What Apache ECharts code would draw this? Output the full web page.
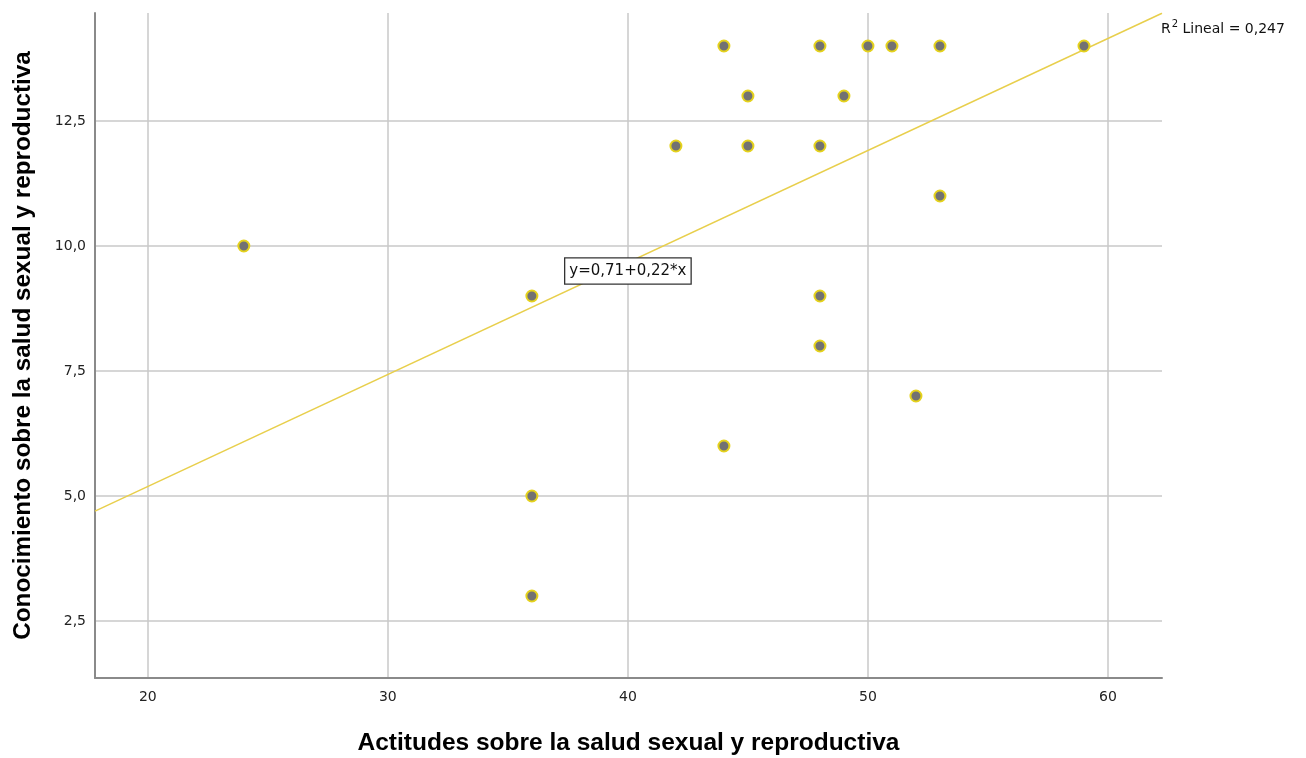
<!DOCTYPE html>
<html><head><meta charset="utf-8">
<script src="https://cdn.jsdelivr.net/npm/echarts@6/dist/echarts.min.js"></script>
<style>html,body{margin:0;padding:0;background:#fff}#c{width:1306px;height:758px}</style>
</head><body><div id="c"></div>
<script>
// Data
const actitudes = [24, 36, 36, 36, 42, 44, 44, 45, 45, 48, 48, 48, 48, 49, 50, 51, 52, 53, 53, 59];
const conocimiento = [10, 9, 5, 3, 12, 14, 6, 13, 12, 14, 12, 9, 8, 13, 14, 14, 7, 14, 11, 14];
const fitIntercept = [0.71];
const fitSlope = [0.224];
const r2Value = ['0,247'];
const eqLabel = ['y=0,71+0,22*x'];
const eqPos = [40, 9.5];
const xRange = [17.8, 62.25];
const yRange = [1.36, 14.66];
const xTicks = [20, 30, 40, 50, 60];
const yTicks = [2.5, 5.0, 7.5, 10.0, 12.5];

const pts = actitudes.map((x, i) => [x, conocimiento[i]]);
const fitLine = xRange.map(x => [x, fitIntercept[0] + fitSlope[0] * x]);
const fmt = v => v.toFixed(1).replace('.', ',');
const FONT = 'DejaVu Sans, Liberation Sans, Arial, sans-serif';
const TFONT = 'Liberation Sans, Arial, sans-serif';

const chart = echarts.init(document.getElementById('c'));
chart.setOption({
  animation: false,
  backgroundColor: '#fff',
  textStyle: { fontFamily: FONT },
  grid: { left: 95, top: 13, right: 144, bottom: 80, containLabel: false, outerBoundsMode: 'none' },
  xAxis: {
    type: 'value', min: xRange[0], max: xRange[1],
    name: 'Actitudes sobre la salud sexual y reproductiva',
    nameLocation: 'middle', nameGap: 53,
    nameTextStyle: { fontSize: 24.5, fontWeight: 'bold', color: '#000', fontFamily: TFONT },
    axisLine: { show: true, lineStyle: { color: '#8a8a8a', width: 2 } },
    axisTick: { show: false, customValues: xTicks },
    axisLabel: {
      fontSize: 14, color: '#222', margin: 12, fontFamily: FONT,
      customValues: xTicks,
      formatter: v => String(Math.round(v))
    },
    splitLine: { show: true, lineStyle: { color: '#c8c8c8', width: 1.5 } }
  },
  yAxis: {
    type: 'value', min: yRange[0], max: yRange[1],
    name: 'Conocimiento sobre la salud sexual y reproductiva',
    nameLocation: 'middle', nameGap: 60, nameRotate: 90,
    nameTextStyle: { fontSize: 24.3, fontWeight: 'bold', color: '#000', fontFamily: TFONT },
    axisLine: { show: true, lineStyle: { color: '#8a8a8a', width: 2 } },
    axisTick: { show: false, customValues: yTicks },
    axisLabel: {
      fontSize: 14, color: '#222', margin: 9, fontFamily: FONT,
      customValues: yTicks,
      formatter: v => fmt(v)
    },
    splitLine: { show: true, lineStyle: { color: '#c8c8c8', width: 1.5 } }
  },
  series: [
    {
      type: 'line', data: fitLine, showSymbol: false, symbol: 'none', silent: true,
      lineStyle: { color: '#e8cf4c', width: 1.5 },
      z: 2,
      markPoint: {
        symbol: 'rect', symbolSize: 0,
        data: [{ coord: eqPos, value: eqLabel[0] }],
        label: {
          show: true, position: 'inside', formatter: eqLabel[0],
          fontSize: 15, color: '#111', fontFamily: FONT,
          backgroundColor: '#fff', borderColor: '#333', borderWidth: 1.3,
          padding: [5, 4, 5, 4]
        }
      }
    },
    {
      type: 'scatter', data: pts, symbolSize: 11,
      itemStyle: { color: '#727272', borderColor: '#e5d21c', borderWidth: 2, opacity: 1 },
      z: 5
    }
  ],
  graphic: [{
    type: 'text', left: 1161, top: 19,
    style: {
      text: '{r|R}{s|2}{r| Lineal = ' + r2Value[0] + '}',
      rich: {
        r: { fontSize: 14, fill: '#111', fontFamily: FONT, verticalAlign: 'bottom' },
        s: { fontSize: 10, fill: '#111', fontFamily: FONT, verticalAlign: 'top', padding: [0, 0, 7, 1] }
      }
    }
  }]
});
</script></body></html>
